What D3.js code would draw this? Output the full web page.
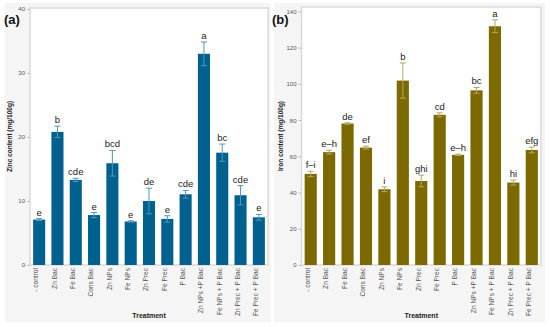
<!doctype html>
<html lang="en">
  <head>
    <meta charset="utf-8">
    <title>Zinc and iron content</title>
    <script src="https://cdn.jsdelivr.net/npm/d3@7"></script>
    <style>
    body { margin: 0; background: #fff; }
    text { font-family: "Liberation Sans", Arial, sans-serif; }
    .tick text { fill: #555; }
    </style>
  </head>
  <body>
    <svg width="550" height="327"></svg>

    <script>
      var treatments = ['- control', 'Zn Bac', 'Fe Bac', 'Cons Bac', 'Zn NPs', 'Fe NPs', 'Zn Prec',
        'Fe Prec', 'P Bac', 'Zn NPs +P Bac', 'Fe NPs + P Bac', 'Zn Prec + P Bac', 'Fe Prec + P Bac'];

      var zincMean = [7.1, 20.8, 13.3, 7.8, 15.9, 6.8, 10.0, 7.2, 11.05, 33.0, 17.55, 10.9, 7.45];
      var zincErr = [0.15, 0.9, 0.25, 0.4, 2.0, 0.1, 2.0, 0.5, 0.6, 1.85, 1.35, 1.5, 0.45];
      var zincLetters = ['e', 'b', 'cde', 'e', 'bcd', 'e', 'de', 'e', 'cde', 'a', 'bc', 'cde', 'e'];
      var zincTicks = [0, 10, 20, 30, 40];

      var ironMean = [50.3, 62.3, 78.1, 64.8, 41.8, 101.8, 46.4, 82.9, 60.8, 96.4, 131.8, 45.5, 63.5];
      var ironErr = [1.5, 1.1, 0.4, 0.8, 1.3, 9.7, 3.2, 1.1, 0.4, 1.6, 3.5, 1.4, 1.6];
      var ironLetters = ['f\u2013i', 'e\u2013h', 'de', 'ef', 'i', 'b', 'ghi', 'cd', 'e\u2013h', 'bc', 'a', 'hi', 'efg'];
      var ironTicks = [0, 20, 40, 60, 80, 100, 120, 140];

      var svg = d3.select('svg');

      function panel(opt) {
        var g = svg.append('g');

        // grey panel + white plot frame
        g.append('rect')
          .attr('x', opt.bg[0]).attr('y', 3)
          .attr('width', opt.bg[1] - opt.bg[0]).attr('height', 319)
          .attr('fill', '#f5f5f5');

        var x = d3.scaleBand()
          .domain(treatments)
          .range([opt.left, opt.right])
          .paddingInner(0.34)
          .paddingOuter(0.17);

        var y = d3.scaleLinear()
          .domain([0, opt.max])
          .range([265, opt.maxY]);

        g.append('rect')
          .attr('x', opt.left).attr('y', opt.frameTop)
          .attr('width', opt.right - opt.left).attr('height', 265 - opt.frameTop)
          .attr('fill', '#fff')
          .attr('stroke', '#dadada')
          .attr('stroke-width', 1.5);

        var yAxis = g.append('g')
          .attr('transform', 'translate(' + opt.left + ',0)')
          .call(d3.axisLeft(y).tickValues(opt.ticks).tickSize(3).tickPadding(2));
        yAxis.select('.domain').remove();
        yAxis.selectAll('.tick line').attr('stroke', '#bbb');
        yAxis.selectAll('.tick text').attr('font-size', 6);

        var xAxis = g.append('g')
          .attr('transform', 'translate(0,265)')
          .call(d3.axisBottom(x).tickSize(0).tickPadding(3));
        xAxis.select('.domain').remove();
        xAxis.selectAll('.tick text')
          .attr('font-size', 6.6)
          .attr('fill', '#333')
          .attr('text-anchor', 'end')
          .attr('dy', '0.35em')
          .attr('transform', 'rotate(-90) translate(-3,-3)')
          .attr('y', 0);

        var data = treatments.map(function(t, i){
          return { t: t, v: opt.mean[i], e: opt.err[i], l: opt.letters[i] };
        });

        g.selectAll('rect.bar').data(data).enter()
          .append('rect')
            .attr('class', 'bar')
            .attr('x', function(d){ return x(d.t); })
            .attr('width', x.bandwidth())
            .attr('y', function(d){ return y(d.v); })
            .attr('height', function(d){ return 265 - y(d.v); })
            .attr('fill', opt.color);

        var eb = g.selectAll('g.err').data(data).enter()
          .append('g')
            .attr('class', 'err')
            .attr('stroke', opt.errColor)
            .attr('stroke-width', 1);
        eb.append('line')
          .attr('x1', function(d){ return x(d.t) + x.bandwidth() / 2; })
          .attr('x2', function(d){ return x(d.t) + x.bandwidth() / 2; })
          .attr('y1', function(d){ return y(d.v - d.e); })
          .attr('y2', function(d){ return y(d.v + d.e); });
        [1, -1].forEach(function(s){
          eb.append('line')
            .attr('x1', function(d){ return x(d.t) + x.bandwidth() / 2 - 3; })
            .attr('x2', function(d){ return x(d.t) + x.bandwidth() / 2 + 3; })
            .attr('y1', function(d){ return y(d.v + s * d.e); })
            .attr('y2', function(d){ return y(d.v + s * d.e); });
        });

        g.selectAll('text.letter').data(data).enter()
          .append('text')
            .attr('class', 'letter')
            .attr('x', function(d){ return x(d.t) + x.bandwidth() / 2; })
            .attr('y', function(d){ return y(d.v + d.e) - 3; })
            .attr('text-anchor', 'middle')
            .attr('font-size', 9.5)
            .attr('fill', '#222')
            .text(function(d){ return d.l; });

        g.append('text')
          .attr('x', (opt.left + opt.right) / 2)
          .attr('y', 318)
          .attr('text-anchor', 'middle')
          .attr('font-size', 7)
          .attr('font-weight', 'bold')
          .attr('fill', '#222')
          .text('Treatment');

        g.append('text')
          .attr('transform', 'translate(' + opt.ylabX + ',' + ((opt.frameTop + 265) / 2) + ') rotate(-90)')
          .attr('text-anchor', 'middle')
          .attr('font-size', 6.5)
          .attr('font-weight', 'bold')
          .attr('fill', '#222')
          .text(opt.ylabel);

        g.append('text')
          .attr('x', opt.tagX)
          .attr('y', 24)
          .attr('font-family', '"Liberation Serif", "DejaVu Serif", serif')
          .attr('font-size', 13)
          .attr('font-weight', 'bold')
          .attr('fill', '#111')
          .text(opt.tag);
      }

      panel({
        bg: [5, 271], left: 30, right: 268, frameTop: 8, max: 40, maxY: 9,
        ticks: zincTicks, mean: zincMean, err: zincErr, letters: zincLetters,
        color: '#00618f', errColor: '#4f97bd',
        ylabel: 'Zinc content (mg/100g)', ylabX: 12, tag: '(a)', tagX: 4
      });

      panel({
        bg: [274, 545], left: 301.5, right: 541, frameTop: 7, max: 140, maxY: 11.4,
        ticks: ironTicks, mean: ironMean, err: ironErr, letters: ironLetters,
        color: '#7c6a00', errColor: '#b3a562',
        ylabel: 'Iron content (mg/100g)', ylabX: 283, tag: '(b)', tagX: 272
      });
    </script>
  </body>
</html>
